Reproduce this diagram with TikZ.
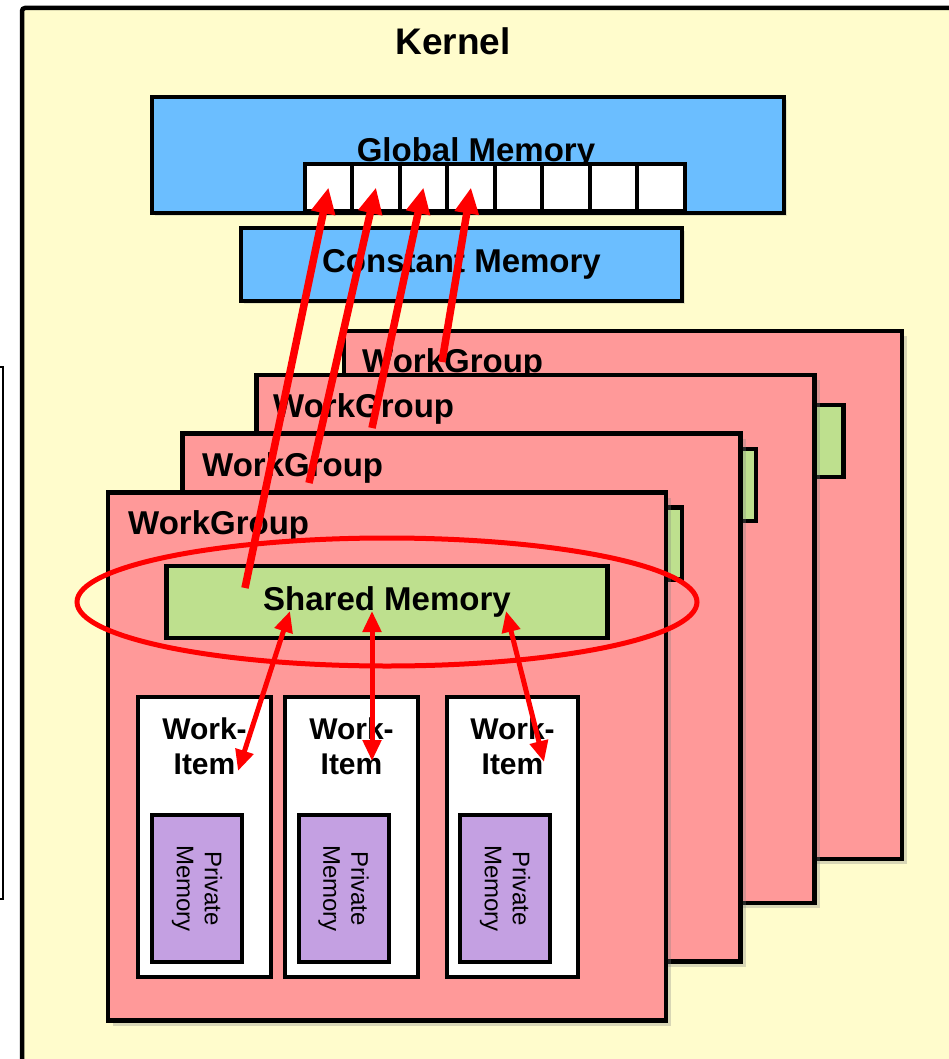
\documentclass[tikz,border=0pt]{standalone}
\usepackage{fontspec}
\setmainfont{Liberation Sans}
\usetikzlibrary{arrows.meta,shadows,positioning}

\definecolor{kernelbg}{RGB}{255,252,204}
\definecolor{memblue}{RGB}{107,190,255}
\definecolor{grouppink}{RGB}{255,153,153}
\definecolor{sharedgreen}{RGB}{190,224,142}
\definecolor{privpurple}{RGB}{196,160,226}

\begin{document}
\begin{tikzpicture}[x=1pt,y=-1pt]

\tikzset{box/.style={draw=black,line width=4.5pt,inner sep=0pt,outer sep=0pt,shape=rectangle},
memory/.style={box,fill=memblue,drop shadow={shadow xshift=3pt,shadow yshift=-3pt,opacity=.2}},
cell/.style={box,fill=white,line width=4pt,minimum width=47.5pt,minimum height=47pt},
group/.style={box,fill=grouppink,minimum width=558pt,minimum height=528pt,drop shadow={shadow xshift=5pt,shadow yshift=-5pt,opacity=.3}},
shared/.style={box,fill=sharedgreen,minimum width=441pt,minimum height=72pt},
item/.style={box,fill=white,line width=4pt,minimum width=133pt,minimum height=280pt},
private/.style={box,fill=privpurple,line width=4pt,minimum width=147pt,minimum height=90pt,rotate=-90,align=center,font=\fontsize{24}{28}\selectfont},
title/.style={font=\fontsize{33}{40}\selectfont\bfseries,inner sep=0pt},
itemtitle/.style={font=\fontsize{30}{35}\selectfont\bfseries,align=center,inner sep=0pt},
ring/.style={draw=red,line width=5pt},
gmaccess/.style={-{Triangle[length=26pt,width=23pt]},line width=7.5pt,red},
smaccess/.style={{Triangle[length=21pt,width=18pt]}-{Triangle[length=21pt,width=18pt]},line width=5pt,red}}

\useasboundingbox (0,0) rectangle (949,1059);
\clip (0,0) rectangle (949,1059);
\fill [white] (0,0) rectangle (949,1059);

% Side frame and kernel
\node (side) [draw,line width=1.2pt,fill=white,minimum width=40pt,minimum height=532pt] at (-17,633) {};
\node (kernel) [box,fill=kernelbg,rounded corners=3pt,minimum width=956pt,minimum height=1084pt] at (500,550) {};
\node (kernellab) [title,font=\fontsize{37}{44}\selectfont\bfseries,anchor=base] at (453,55) {Kernel};

% Global memory with its cells
\node (gm) [memory,minimum width=632pt,minimum height=116pt] at (468,155) {};
\node (gmlab) [title,anchor=base] at (476,162) {Global Memory};
\node (cell1) [cell] at (328.5,187.5) {};
\node (cell2) [right=0pt of cell1,cell] {};
\node (cell3) [right=0pt of cell2,cell] {};
\node (cell4) [right=0pt of cell3,cell] {};
\node (cell5) [right=0pt of cell4,cell] {};
\node (cell6) [right=0pt of cell5,cell] {};
\node (cell7) [right=0pt of cell6,cell] {};
\node (cell8) [right=0pt of cell7,cell] {};

% Constant memory
\node (cm) [memory,minimum width=441pt,minimum height=73pt,font=\fontsize{33}{40}\selectfont\bfseries] at (461.5,264.5) {Constant Memory};

% Work groups, back to front
\node (wg4) [group] at (623,595) {};
\node (sm4) [shared] at (623,441) {};
\node (wg4lab) [title,anchor=base west] at (362,372) {WorkGroup};

\node (wg3) [group] at (535.5,639) {};
\node (sm3) [shared] at (535.5,485) {};
\node (wg3lab) [title,anchor=base west] at (273,417) {WorkGroup};

\node (wg2) [group] at (461.5,697.5) {};
\node (sm2) [shared] at (461.5,543.5) {};
\node (wg2lab) [title,anchor=base west] at (202,476) {WorkGroup};

\node (wg1) [group] at (387,756.5) {};
\node (sm1) [shared,font=\fontsize{33}{40}\selectfont\bfseries] at (387,602) {Shared Memory};
\node (wg1lab) [title,anchor=base west] at (128,534) {WorkGroup};

\draw [ring] (sm1.center) ellipse [x radius=310pt,y radius=64pt];

% Work-items and their private memory
\node (wi1) [item] at (204.5,837) {};
\node (wi2) [item] at (351.5,837) {};
\node (wi3) [item,minimum width=131pt] at (512.5,837) {};
\node (wi1lab) [below=21pt of wi1.north,itemtitle] {Work-\\Item};
\node (wi2lab) [below=21pt of wi2.north,itemtitle] {Work-\\Item};
\node (wi3lab) [below=21pt of wi3.north,itemtitle] {Work-\\Item};
\node (pm1) [private] at (197,888.5) {Private\\Memory};
\node (pm2) [private] at (343.5,888.5) {Private\\Memory};
\node (pm3) [private] at (505,888.5) {Private\\Memory};

% Accesses to global memory
\coordinate (g1) at (245,588);
\coordinate (g2) at (309,483);
\coordinate (g3) at (372,428);
\coordinate (g4) at (442,362);
\draw [gmaccess] (g1) -- (cell1.center);
\draw [gmaccess] (g2) -- (cell2.center);
\draw [gmaccess] (g3) -- (cell3.center);
\draw [gmaccess] (g4) -- (cell4.center);

% Accesses between shared memory and work-items
\coordinate (smA) at (290,611);
\coordinate (smB) at (372,611);
\coordinate (smC) at (506,611);
\coordinate (wiA) at (238,771);
\coordinate (wiB) at (372,761);
\coordinate (wiC) at (544,762);
\draw [smaccess] (smA) -- (wiA);
\draw [smaccess] (smB) -- (wiB);
\draw [smaccess] (smC) -- (wiC);

\end{tikzpicture}
\end{document}
